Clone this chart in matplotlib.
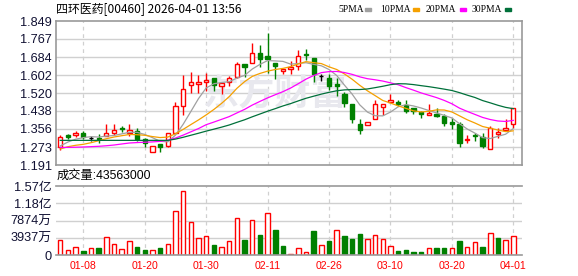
import numpy as np
import pandas as pd
import matplotlib
matplotlib.use('Agg')
import matplotlib.pyplot as plt
from matplotlib.patches import Rectangle

title = '四环医药[00460] 2026-04-01 13:56'
vol_title = '成交量:43563000'

opens = [1.2719, 1.3280, 1.3280, 1.3358, 1.3143, 1.3157, 1.3248, 1.3372, 1.3600, 1.3385,
         1.3449, 1.3084, 1.2490, 1.2869, 1.2800, 1.3385, 1.4619, 1.5551, 1.5634, 1.5702,
         1.5899, 1.5533, 1.5716, 1.5917, 1.6525, 1.6557, 1.7014, 1.6904, 1.6584, 1.6219,
         1.6310, 1.6447, 1.6996, 1.6799, 1.5976, 1.5885, 1.5611, 1.5140, 1.4683, 1.3783,
         1.3723, 1.4025, 1.4546, 1.4802, 1.4788, 1.4651, 1.4528, 1.4318, 1.4208, 1.4226,
         1.4162, 1.3874, 1.3783, 1.3038, 1.3294, 1.3175, 1.2627, 1.3326, 1.3509, 1.3797]
highs = [1.3267, 1.3326, 1.3477, 1.3477, 1.3248, 1.3340, 1.3797, 1.3769, 1.3691, 1.3797,
         1.3586, 1.3129, 1.2777, 1.2869, 1.3385, 1.4774, 1.6022, 1.6173, 1.6022, 1.6114,
         1.5899, 1.5670, 1.5990, 1.6630, 1.6525, 1.7498, 1.7393, 1.7928, 1.6584, 1.6296,
         1.6662, 1.7165, 1.7210, 1.6799, 1.6068, 1.6054, 1.5871, 1.5232, 1.4683, 1.3998,
         1.3874, 1.4880, 1.4697, 1.5154, 1.4880, 1.4866, 1.4528, 1.4377, 1.4697, 1.4500,
         1.4226, 1.4043, 1.3861, 1.3280, 1.3385, 1.3358, 1.3678, 1.3586, 1.4011, 1.4500]
lows = [1.2596, 1.3097, 1.3175, 1.3111, 1.3020, 1.2928, 1.3248, 1.3280, 1.3404, 1.3248,
        1.3020, 1.2719, 1.2490, 1.2490, 1.2732, 1.3385, 1.4194, 1.5186, 1.5213, 1.5291,
        1.5305, 1.5140, 1.5533, 1.5871, 1.5917, 1.6557, 1.6402, 1.6100, 1.5826, 1.6054,
        1.6054, 1.6251, 1.6721, 1.5716, 1.5762, 1.5337, 1.5062, 1.4560, 1.3815, 1.3312,
        1.3723, 1.4025, 1.4194, 1.4775, 1.4592, 1.4300, 1.4226, 1.4043, 1.4208, 1.4117,
        1.3705, 1.3541, 1.2719, 1.2901, 1.3006, 1.2700, 1.2627, 1.3157, 1.3509, 1.3614]
closes = [1.3176, 1.3175, 1.3358, 1.3175, 1.3143, 1.3084, 1.3385, 1.3509, 1.3541, 1.3495,
          1.3084, 1.2901, 1.2777, 1.2719, 1.3358, 1.4605, 1.5382, 1.5689, 1.5680, 1.5794,
          1.5565, 1.5670, 1.5871, 1.6511, 1.6402, 1.7014, 1.6740, 1.6740, 1.6433, 1.6296,
          1.6388, 1.6877, 1.6923, 1.6054, 1.5976, 1.5533, 1.5520, 1.4729, 1.4011, 1.3509,
          1.3874, 1.4683, 1.4697, 1.4880, 1.4697, 1.4391, 1.4377, 1.4226, 1.4300, 1.4162,
          1.3815, 1.3797, 1.2901, 1.3097, 1.3221, 1.2791, 1.3586, 1.3404, 1.3586, 1.4500]

# volume in millions of shares
volumes = [33.5, 10.7, 17.6, 9.1, 15.3, 16.0, 40.4, 24.4, 13.0, 31.3,
           18.3, 10.7, 10.7, 16.0, 25.8, 99.7, 146.0, 74.6, 38.1, 42.7,
           22.1, 18.3, 31.3, 83.8, 34.2, 79.2, 45.0, 95.2, 57.1, 20.5,
           1.6, 15.3, 6.2, 54.8, 22.8, 32.0, 56.4, 42.7, 36.5, 47.9,
           36.5, 45.0, 35.8, 20.5, 8.4, 10.7, 6.8, 6.8, 15.3, 16.7,
           16.7, 16.0, 32.0, 18.3, 29.0, 18.9, 49.5, 38.8, 34.2, 43.563]
vol_up = [1, 1, 1, 0, 1, 0, 1, 1, 1, 1, 0, 0, 1, 0, 1, 1, 1, 1, 1, 1,
          0, 1, 1, 1, 0, 1, 0, 1, 0, 0, 1, 1, 1, 0, 1, 0, 1, 0, 0, 0,
          1, 1, 1, 1, 0, 0, 0, 0, 1, 0, 0, 1, 0, 1, 1, 0, 1, 0, 1, 1]

# moving average values at the start of the window
ma5_head = [1.2780, 1.2960, 1.3090, 1.3160]
ma10_head = [1.2640, 1.2746, 1.2810, 1.2855, 1.2928, 1.3020, 1.3111, 1.3189, 1.3248]
ma20_head = [1.2709, 1.2715, 1.2722, 1.2732, 1.2748, 1.2764, 1.2790, 1.2823, 1.2870, 1.2915,
             1.2935, 1.2950, 1.2965, 1.2990, 1.3040, 1.3140, 1.3275, 1.3425, 1.3575]
ma30_head = [1.3036, 1.3036, 1.3036, 1.3036, 1.3036, 1.3036, 1.3036, 1.3036, 1.3036, 1.3036,
             1.3036, 1.3036, 1.3036, 1.3036, 1.3036, 1.3093, 1.3176, 1.3269, 1.3361, 1.3458,
             1.3547, 1.3639, 1.3738, 1.3859, 1.3975, 1.4112, 1.4240, 1.4368, 1.4486]

price_ticks = [1.191, 1.273, 1.356, 1.438, 1.520, 1.602, 1.684, 1.767, 1.849]
price_labels = ['1.191', '1.273', '1.356', '1.438', '1.520', '1.602', '1.684', '1.767', '1.849']
vol_ticks = [0, 39.37, 78.74, 118.11, 157.48]
vol_labels = ['0', '3937万', '7874万', '1.18亿', '1.57亿']
date_labels = ['01-08', '01-20', '01-30', '02-11', '02-26', '03-10', '03-20', '04-01']
holidays = ['2026-02-17', '2026-02-18', '2026-02-19']

ma_names = ['5PMA', '10PMA', '20PMA', '30PMA']
ma_colors = ['#a0a0a0', '#f5a000', '#ff00ff', '#00703a']

RED = '#ff0000'
GREEN = '#008000'
GRID = '#d0d0d0'
FRAME = '#999999'

days = pd.bdate_range('2026-01-05', '2026-04-01')
days = days[~days.isin(pd.to_datetime(holidays))]
day_str = list(days.strftime('%m-%d'))
n = len(closes)
x = np.arange(n)
tick_pos = [day_str.index(d) for d in date_labels]

s = pd.Series(closes)
mas = []
for win, head in zip([5, 10, 20, 30], [ma5_head, ma10_head, ma20_head, ma30_head]):
    m = s.rolling(win).mean().values
    m[:len(head)] = head
    mas.append(m)

W, H = 578, 276
fig = plt.figure(figsize=(W / 100, H / 100), dpi=100)
ax = fig.add_axes([56 / W, 1 - 165 / H, 466 / W, 144 / H])
ax2 = fig.add_axes([56 / W, 1 - 255 / H, 466 / W, 69 / H])

xlim = (-0.555, 60.13)
cjk = ['Noto Sans CJK SC', 'DejaVu Sans']
num = ['Liberation Sans', 'Noto Sans CJK SC']

# ---- price panel
ax.set_xlim(xlim)
ax.set_ylim(1.191, 1.849)
for p in price_ticks[1:-1]:
    ax.axhline(p, color=GRID, lw=1.0, zorder=0)
for t in tick_pos:
    ax.axvline(t, color=GRID, lw=0.9, ls=(0, (3, 3)), zorder=0)

# faint watermark
ax.text(28, 1.515, '东方财富', fontsize=26, fontweight='bold', color='#e8e8ee',
        family=cjk, ha='center', va='center', zorder=0.5)

bw = 0.56
for i in range(n):
    o, h, l, c = opens[i], highs[i], lows[i], closes[i]
    if c > o:
        col = RED
    elif c < o:
        col = GREEN
    else:
        col = 'black'
    top, bot = max(o, c), min(o, c)
    ax.vlines(i, top, h, color=col, lw=1.0, zorder=2)
    ax.vlines(i, l, bot, color=col, lw=1.0, zorder=2)
    if c == o:
        ax.hlines(o, i - bw / 2, i + bw / 2, color=col, lw=1.0, zorder=2)
    else:
        fc = 'white' if c > o else GREEN
        ax.add_patch(Rectangle((i - bw / 2, bot), bw, top - bot, facecolor=fc,
                               edgecolor=col, lw=1.0, zorder=2))

for m, col in zip(mas, ma_colors):
    ax.plot(x, m, color=col, lw=0.9, zorder=3)

ax.set_yticks(price_ticks)
ax.set_yticklabels(price_labels, family=num, fontsize=9.2, color='#111133')
ax.set_xticks([])
ax.tick_params(axis='y', length=0, pad=3)
for sp in ax.spines.values():
    sp.set_color(FRAME)
    sp.set_linewidth(1.2)

# ---- volume panel
ax2.set_xlim(xlim)
ax2.set_ylim(0, vol_ticks[-1])
for v in vol_ticks[1:-1]:
    ax2.axhline(v, color=GRID, lw=1.0, zorder=0)
for t in tick_pos:
    ax2.axvline(t, color=GRID, lw=0.9, ls=(0, (3, 3)), zorder=0)
fcs = ['white' if u else GREEN for u in vol_up]
ecs = [RED if u else GREEN for u in vol_up]
ax2.bar(x, volumes, width=0.58, color=fcs, edgecolor=ecs, lw=1.0, zorder=2)

ax2.set_yticks(vol_ticks)
ax2.set_yticklabels(vol_labels, family=num, fontsize=9.2, color='#111133')
ax2.set_xticks(tick_pos)
ax2.set_xticklabels(date_labels, family='Liberation Sans', fontsize=7.6, color=RED)
ax2.tick_params(axis='y', length=0, pad=3)
ax2.tick_params(axis='x', length=0, pad=4)
for sp in ax2.spines.values():
    sp.set_color(FRAME)
    sp.set_linewidth(1.2)
ax2.spines['left'].set_visible(False)
ax2.spines['right'].set_visible(False)

# ---- header texts
fig.text(56 / W, 1 - 9 / H, title, family=cjk, fontsize=8.6, va='center', ha='left')
fig.text(57 / W, 1 - 176 / H, vol_title, family=['Liberation Sans', 'Noto Sans CJK SC'],
         fontsize=8.8, va='center', ha='left')

leg_x = [338, 380, 426, 472]
leg_mark = [365, 413, 460, 505]
for lx, mx, name, col in zip(leg_x, leg_mark, ma_names, ma_colors):
    fig.text(lx / W, 1 - 9 / H, name, family='Liberation Serif', fontsize=6.9,
             va='center', ha='left')
    fig.patches.append(Rectangle((mx / W, 1 - 10.5 / H), 6 / W, 2.5 / H,
                                 transform=fig.transFigure, color=col))

fig.savefig('out.png', dpi=100, facecolor='white')
